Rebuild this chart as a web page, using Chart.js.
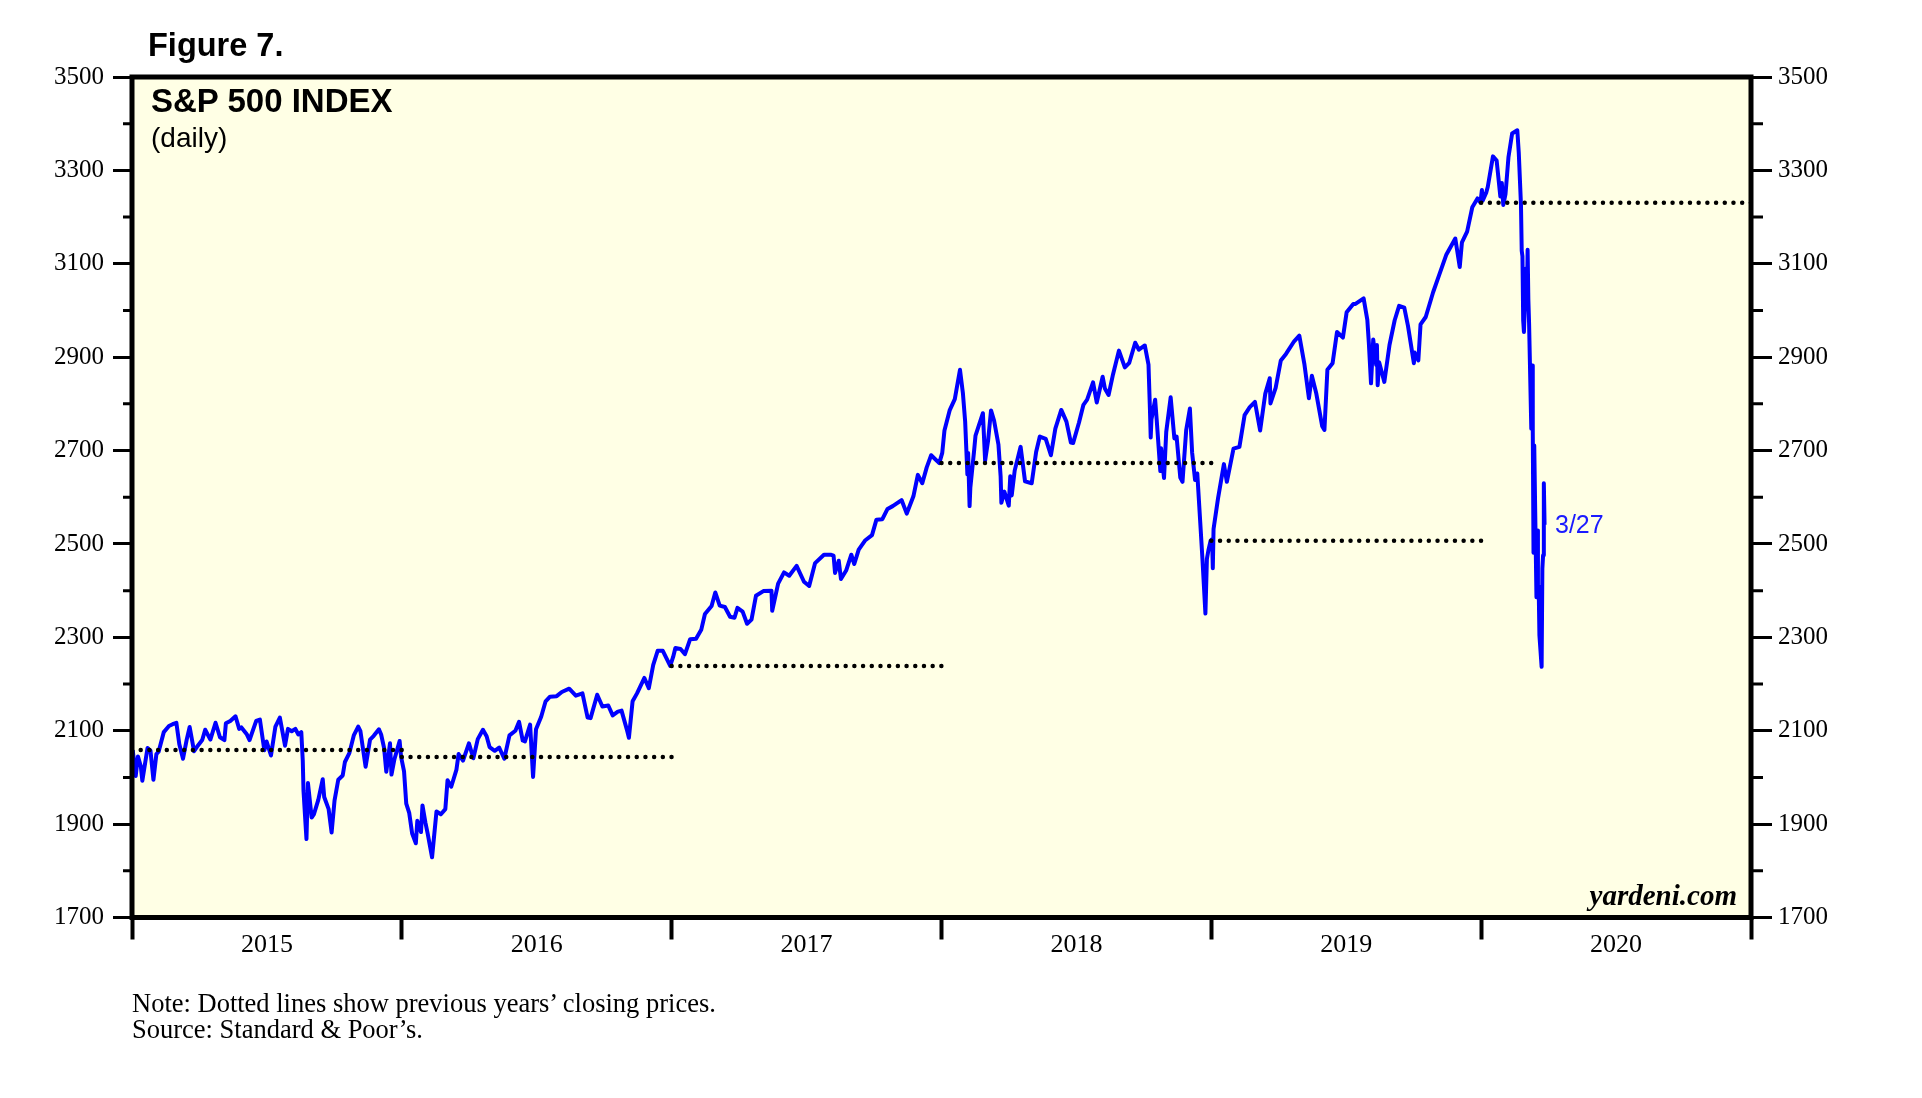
<!DOCTYPE html>
<html>
<head>
<meta charset="utf-8">
<title>Figure 7. S&amp;P 500 Index</title>
<script src="https://cdn.jsdelivr.net/npm/chart.js@4.4.1/dist/chart.umd.min.js"></script>
<style>
  html, body { margin: 0; padding: 0; background: #fff; }
  #page { position: relative; width: 1922px; height: 1098px; overflow: hidden; }
  #chart { position: absolute; left: 0; top: 0; }
  .txt { position: absolute; white-space: nowrap; line-height: 1; color: #000; }
  .sans { font-family: "Liberation Sans", Arial, sans-serif; }
  .serif { font-family: "Liberation Serif", "Times New Roman", serif; }
</style>
</head>
<body>
<div id="page">
  <canvas id="chart" width="1922" height="1098"></canvas>
  <div class="txt sans" style="left:148px;top:29px;font-size:32.5px;font-weight:bold;">Figure 7.</div>
  <div class="txt sans" style="left:151px;top:84px;font-size:33px;font-weight:bold;">S&amp;P 500 INDEX</div>
  <div class="txt sans" style="left:151px;top:124px;font-size:28px;">(daily)</div>
  <div class="txt sans" style="left:1555px;top:512px;font-size:25px;color:#1a1aff;">3/27</div>
  <div class="txt serif" style="right:185px;top:881px;font-size:29px;font-weight:bold;font-style:italic;">yardeni.com</div>
  <div class="txt serif" style="left:132px;top:990px;font-size:26.5px;">Note: Dotted lines show previous years’ closing prices.</div>
  <div class="txt serif" style="left:132px;top:1016px;font-size:26.5px;">Source: Standard &amp; Poor’s.</div>
</div>
<script>
// S&P 500 closes, [month-day, close]
const spx2015 = [
  ['01-02', 2058], ['01-06', 2003], ['01-09', 2045], ['01-13', 2023], ['01-15', 1993], ['01-22', 2063],
  ['01-26', 2057], ['01-30', 1995], ['02-03', 2050], ['02-06', 2055], ['02-13', 2097], ['02-20', 2110],
  ['02-25', 2114], ['03-02', 2117], ['03-06', 2071], ['03-11', 2040], ['03-16', 2081], ['03-20', 2108],
  ['03-26', 2056], ['03-31', 2068], ['04-06', 2080], ['04-10', 2102], ['04-17', 2081], ['04-24', 2117],
  ['04-30', 2086], ['05-06', 2080], ['05-08', 2116], ['05-14', 2121], ['05-21', 2131], ['05-26', 2104],
  ['05-29', 2107], ['06-05', 2093], ['06-09', 2080], ['06-12', 2094], ['06-18', 2121], ['06-23', 2124],
  ['06-29', 2058], ['07-02', 2077], ['07-08', 2047], ['07-14', 2109], ['07-20', 2128], ['07-27', 2068],
  ['07-31', 2104], ['08-05', 2099], ['08-10', 2104], ['08-14', 2092], ['08-18', 2097], ['08-20', 2036],
  ['08-21', 1971], ['08-24', 1893], ['08-25', 1868], ['08-27', 1988], ['09-01', 1914], ['09-04', 1921],
  ['09-10', 1952], ['09-16', 1996], ['09-18', 1958], ['09-24', 1932], ['09-28', 1882], ['10-02', 1951],
  ['10-07', 1995], ['10-13', 2004], ['10-16', 2033], ['10-22', 2052], ['10-28', 2090], ['11-03', 2109],
  ['11-06', 2099], ['11-13', 2023], ['11-19', 2081], ['11-24', 2089], ['12-01', 2103], ['12-04', 2092],
  ['12-08', 2063], ['12-11', 2012], ['12-16', 2073], ['12-18', 2006], ['12-22', 2039], ['12-29', 2078],
  ['12-31', 2044]
];
const spx2016 = [
  ['01-04', 2013], ['01-07', 1944], ['01-11', 1924], ['01-15', 1880], ['01-20', 1859], ['01-22', 1907],
  ['01-27', 1883], ['01-29', 1940], ['02-02', 1903], ['02-05', 1880], ['02-11', 1829], ['02-17', 1927],
  ['02-23', 1921], ['02-29', 1932], ['03-03', 1994], ['03-08', 1980], ['03-15', 2016], ['03-18', 2050],
  ['03-24', 2036], ['04-01', 2073], ['04-07', 2041], ['04-13', 2082], ['04-20', 2102], ['04-25', 2088],
  ['04-29', 2065], ['05-06', 2057], ['05-12', 2064], ['05-19', 2040], ['05-26', 2090], ['06-03', 2100],
  ['06-08', 2119], ['06-13', 2079], ['06-16', 2077], ['06-23', 2113], ['06-27', 2001], ['07-01', 2103],
  ['07-08', 2130], ['07-14', 2163], ['07-20', 2173], ['07-29', 2174], ['08-05', 2183], ['08-15', 2190],
  ['08-24', 2175], ['09-02', 2180], ['09-09', 2128], ['09-13', 2127], ['09-22', 2177], ['09-29', 2152],
  ['10-07', 2154], ['10-13', 2133], ['10-20', 2141], ['10-25', 2143], ['11-02', 2098], ['11-04', 2085],
  ['11-09', 2163], ['11-15', 2180], ['11-25', 2213], ['12-01', 2191], ['12-07', 2241], ['12-13', 2271],
  ['12-20', 2271], ['12-30', 2239]
];
const spx2017 = [
  ['01-03', 2258], ['01-06', 2277], ['01-13', 2275], ['01-19', 2264], ['01-26', 2296], ['02-03', 2297],
  ['02-10', 2316], ['02-15', 2350], ['02-24', 2367], ['03-01', 2396], ['03-07', 2368], ['03-14', 2365],
  ['03-21', 2344], ['03-27', 2342], ['03-31', 2363], ['04-07', 2355], ['04-13', 2329], ['04-19', 2338],
  ['04-25', 2389], ['05-05', 2399], ['05-16', 2400], ['05-17', 2357], ['05-25', 2415], ['06-02', 2439],
  ['06-09', 2432], ['06-19', 2453], ['06-29', 2419], ['07-06', 2410], ['07-14', 2459], ['07-26', 2477],
  ['08-04', 2477], ['08-08', 2475], ['08-10', 2438], ['08-15', 2464], ['08-18', 2425], ['08-25', 2443],
  ['09-01', 2477], ['09-05', 2457], ['09-11', 2488], ['09-20', 2508], ['09-29', 2519], ['10-05', 2552],
  ['10-13', 2553], ['10-20', 2575], ['10-27', 2581], ['11-08', 2594], ['11-15', 2565], ['11-24', 2602],
  ['11-30', 2648], ['12-06', 2630], ['12-12', 2664], ['12-18', 2690], ['12-29', 2673]
];
const spx2018 = [
  ['01-02', 2695], ['01-05', 2743], ['01-12', 2786], ['01-19', 2810], ['01-26', 2873], ['01-30', 2822],
  ['02-02', 2762], ['02-05', 2649], ['02-06', 2695], ['02-08', 2581], ['02-09', 2620], ['02-14', 2698],
  ['02-16', 2732], ['02-26', 2780], ['03-01', 2678], ['03-05', 2721], ['03-09', 2786], ['03-13', 2765],
  ['03-19', 2713], ['03-22', 2644], ['03-23', 2588], ['03-27', 2612], ['04-02', 2582], ['04-04', 2645],
  ['04-06', 2604], ['04-10', 2657], ['04-18', 2708], ['04-24', 2634], ['05-03', 2630], ['05-09', 2697],
  ['05-14', 2730], ['05-22', 2725], ['05-29', 2690], ['06-04', 2747], ['06-12', 2787], ['06-19', 2762],
  ['06-25', 2717], ['06-28', 2716], ['07-06', 2760], ['07-12', 2798], ['07-17', 2809], ['07-25', 2846],
  ['07-30', 2803], ['08-07', 2858], ['08-10', 2833], ['08-15', 2819], ['08-21', 2863], ['08-29', 2914],
  ['09-06', 2878], ['09-12', 2888], ['09-20', 2931], ['09-25', 2916], ['10-03', 2925], ['10-08', 2884],
  ['10-10', 2786], ['10-11', 2728], ['10-12', 2767], ['10-17', 2809], ['10-19', 2768], ['10-24', 2656],
  ['10-25', 2705], ['10-29', 2641], ['11-01', 2740], ['11-07', 2814], ['11-12', 2726], ['11-15', 2730],
  ['11-20', 2642], ['11-23', 2633], ['11-28', 2744], ['12-03', 2790], ['12-06', 2696], ['12-10', 2637],
  ['12-13', 2651], ['12-17', 2546], ['12-20', 2467], ['12-24', 2351], ['12-26', 2468], ['12-28', 2486],
  ['12-31', 2507]
];
const spx2019 = [
  ['01-02', 2510], ['01-03', 2448], ['01-04', 2532], ['01-10', 2597], ['01-18', 2671], ['01-22', 2633],
  ['01-31', 2704], ['02-08', 2708], ['02-15', 2776], ['02-22', 2793], ['03-01', 2804], ['03-08', 2743],
  ['03-15', 2822], ['03-21', 2855], ['03-22', 2801], ['03-29', 2834], ['04-05', 2893], ['04-12', 2907],
  ['04-23', 2934], ['04-30', 2946], ['05-07', 2884], ['05-13', 2812], ['05-17', 2860], ['05-23', 2822],
  ['05-31', 2752], ['06-03', 2744], ['06-07', 2873], ['06-14', 2887], ['06-20', 2954], ['06-28', 2942],
  ['07-03', 2996], ['07-12', 3014], ['07-15', 3014], ['07-26', 3026], ['07-31', 2980], ['08-02', 2932],
  ['08-05', 2844], ['08-08', 2938], ['08-12', 2883], ['08-13', 2926], ['08-14', 2840], ['08-16', 2889],
  ['08-23', 2847], ['08-30', 2926], ['09-06', 2979], ['09-12', 3010], ['09-19', 3006], ['09-24', 2967],
  ['10-02', 2887], ['10-03', 2910], ['10-08', 2893], ['10-11', 2970], ['10-18', 2986], ['10-28', 3039],
  ['11-05', 3075], ['11-15', 3120], ['11-27', 3154], ['12-03', 3093], ['12-06', 3146], ['12-13', 3169],
  ['12-20', 3221], ['12-27', 3240], ['12-31', 3231]
];
const spx2020 = [
  ['01-02', 3258], ['01-03', 3235], ['01-08', 3253], ['01-10', 3265], ['01-17', 3330], ['01-22', 3321],
  ['01-27', 3244], ['01-29', 3273], ['01-31', 3226], ['02-03', 3249], ['02-07', 3328], ['02-12', 3379],
  ['02-19', 3386], ['02-21', 3338], ['02-24', 3226], ['02-25', 3128], ['02-26', 3116], ['02-27', 2979],
  ['02-28', 2954], ['03-02', 3090], ['03-03', 3003], ['03-04', 3130], ['03-05', 3024], ['03-06', 2972],
  ['03-09', 2747], ['03-10', 2882], ['03-11', 2741], ['03-12', 2481], ['03-13', 2711], ['03-16', 2386],
  ['03-17', 2529], ['03-18', 2398], ['03-19', 2409], ['03-20', 2305], ['03-23', 2237], ['03-24', 2447],
  ['03-25', 2476], ['03-26', 2630], ['03-27', 2541]
];

// previous year-end closes, drawn dotted across the following year
const closeYears = [2015, 2016, 2017, 2018, 2019, 2020];
const priorClose = [2058.90, 2043.94, 2238.83, 2673.61, 2506.85, 3230.78];

const yTicks = [1700, 1900, 2100, 2300, 2500, 2700, 2900, 3100, 3300, 3500];
const xYears = [2015, 2016, 2017, 2018, 2019, 2020];

const PLOT_BG = '#ffffe5';
const LINE_BLUE = '#0000ff';
const SERIF = '"Liberation Serif", "Times New Roman", serif';

// date -> fractional year so the linear x scale spaces days evenly
function yearFrac(year, md) {
    const [m, d] = md.split('-').map(Number);
    const t0 = Date.UTC(year, 0, 1);
    const t1 = Date.UTC(year + 1, 0, 1);
    return year + (Date.UTC(year, m - 1, d) - t0) / (t1 - t0);
}

const yearly = { 2015: spx2015, 2016: spx2016, 2017: spx2017, 2018: spx2018, 2019: spx2019, 2020: spx2020 };
let spxPoints = [];
Object.keys(yearly).forEach(y => {
    yearly[y].forEach(([md, v]) => spxPoints.push({ x: yearFrac(Number(y), md), y: v }));
});

const dotted = closeYears.map((yr, i) => ({
    data: [{ x: yr, y: priorClose[i] }, { x: yr + 1, y: priorClose[i] }],
    borderColor: '#000',
    borderWidth: 4.5,
    borderDash: [0, 8.7],
    borderCapStyle: 'round',
    pointRadius: 0,
    order: 0
}));

const isMajor = v => yTicks.includes(v);

// plot background, frame and short minor ticks
const framePlugin = {
    id: 'frame',
    beforeDatasetsDraw(chart) {
        const { ctx, chartArea: a } = chart;
        ctx.save();
        ctx.fillStyle = PLOT_BG;
        ctx.fillRect(a.left, a.top, a.right - a.left, a.bottom - a.top);
        ctx.restore();
    },
    afterDatasetsDraw(chart) {
        const { ctx, chartArea: a } = chart;
        const ys = chart.scales.y;
        ctx.save();
        ctx.strokeStyle = '#000';
        ctx.lineWidth = 3;
        for (let v = 1800; v <= 3400; v += 200) {
            const py = ys.getPixelForValue(v);
            ctx.beginPath();
            ctx.moveTo(a.left - 9, py);
            ctx.lineTo(a.left, py);
            ctx.moveTo(a.right, py);
            ctx.lineTo(a.right + 12, py);
            ctx.stroke();
        }
        ctx.lineWidth = 5;
        ctx.strokeRect(a.left, a.top, a.right - a.left, a.bottom - a.top);
        ctx.restore();
    }
};

const yAxis = (pos, len, pad, width) => ({
    type: 'linear',
    position: pos,
    display: true,
    min: 1700,
    max: 3500,
    afterFit: s => { s.width = width; },
    border: { display: false },
    grid: {
        drawOnChartArea: false,
        drawTicks: true,
        tickLength: len,
        tickWidth: 3,
        tickColor: c => isMajor(c.tick.value) ? '#000' : 'rgba(0,0,0,0)'
    },
    ticks: {
        stepSize: 100,
        autoSkip: false,
        padding: pad,
        color: '#000',
        font: { family: SERIF, size: 25 },
        callback: v => isMajor(v) ? String(v) : ''
    }
});

new Chart(document.getElementById('chart'), {
    type: 'line',
    data: {
        datasets: [
            ...dotted,
            {
                data: spxPoints,
                borderColor: LINE_BLUE,
                borderWidth: 4,
                borderJoinStyle: 'round',
                pointRadius: 0,
                tension: 0,
                order: 1
            }
        ]
    },
    options: {
        responsive: false,
        animation: false,
        devicePixelRatio: 1,
        layout: { padding: { left: 0, right: 0, top: 77, bottom: 120.5 } },
        plugins: { legend: { display: false }, tooltip: { enabled: false } },
        scales: {
            x: {
                type: 'linear',
                position: 'bottom',
                min: xYears[0],
                max: xYears[xYears.length - 1] + 1,
                afterFit: s => { s.height = 60; },
                border: { display: false },
                grid: {
                    drawOnChartArea: false,
                    drawTicks: true,
                    tickLength: 22,
                    tickWidth: 4,
                    tickColor: c => Number.isInteger(c.tick.value) ? '#000' : 'rgba(0,0,0,0)'
                },
                ticks: {
                    stepSize: 0.5,
                    autoSkip: false,
                    maxRotation: 0,
                    padding: -10,
                    color: '#000',
                    font: { family: SERIF, size: 26 },
                    callback: v => Number.isInteger(v) ? '' : String(Math.floor(v))
                }
            },
            y: yAxis('left', 19, 9, 132),
            y2: yAxis('right', 21, 6, 171)
        }
    },
    plugins: [framePlugin]
});
</script>
</body>
</html>
